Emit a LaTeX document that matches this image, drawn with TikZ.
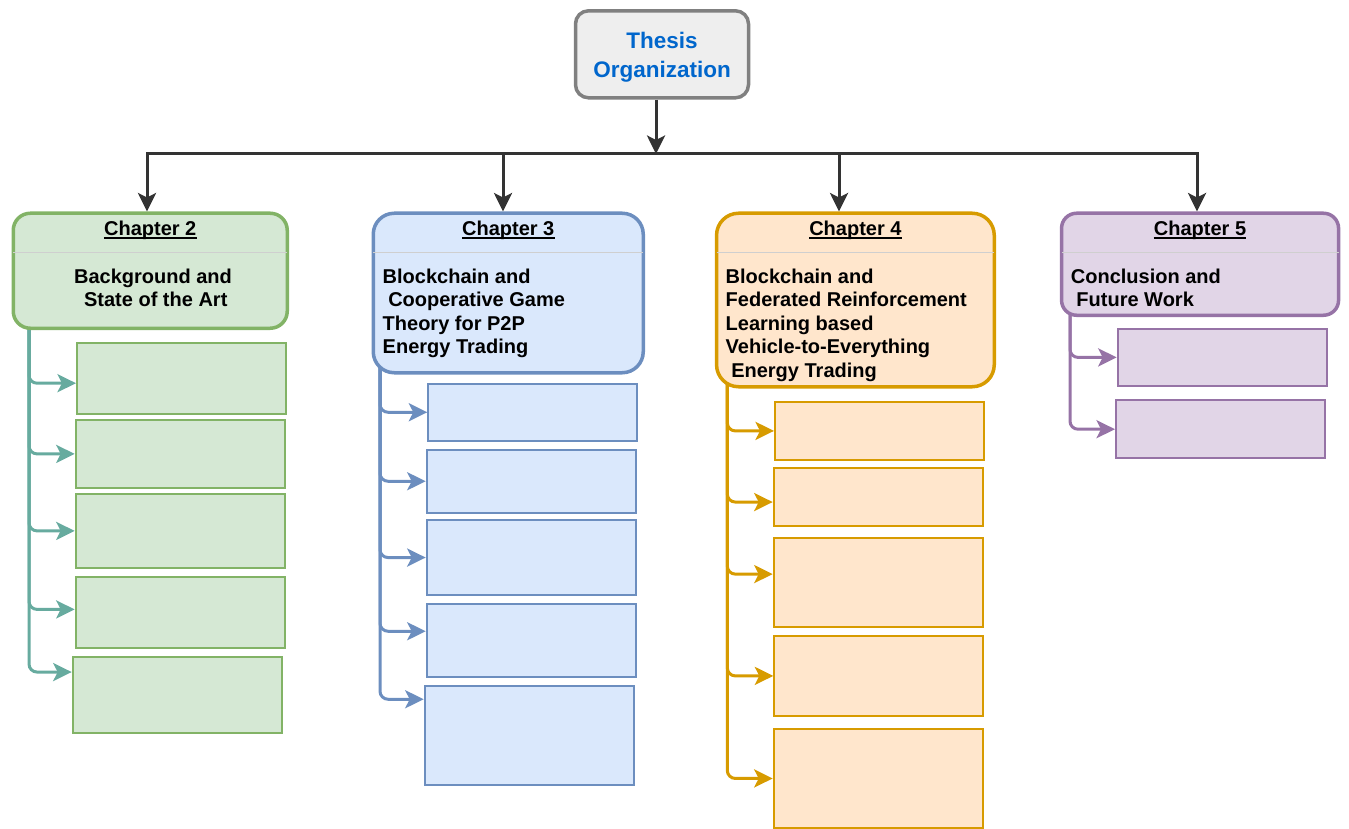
\documentclass[tikz,border=0pt]{standalone}
\usepackage{fontspec}
\setmainfont{Liberation Sans}
\usetikzlibrary{arrows.meta,calc}

\definecolor{gfill}{HTML}{D5E8D4}
\definecolor{gline}{HTML}{82B366}
\definecolor{gwire}{HTML}{67AB9F}
\definecolor{bfill}{HTML}{DAE8FC}
\definecolor{bline}{HTML}{6C8EBF}
\definecolor{ofill}{HTML}{FFE6CC}
\definecolor{oline}{HTML}{D79B00}
\definecolor{pfill}{HTML}{E1D5E7}
\definecolor{pline}{HTML}{9673A6}
\definecolor{tfill}{HTML}{EEEEEE}
\definecolor{tline}{HTML}{808080}
\definecolor{tblue}{HTML}{0066CC}
\definecolor{wire}{HTML}{333333}
\definecolor{sepline}{HTML}{CFCFCF}

\newcommand\chapfont{\fontsize{20}{23.6}\selectfont\bfseries}
\newcommand\titlefont{\fontsize{22.5}{29.6}\selectfont\bfseries}
\newcommand\lead{\hspace*{5.56pt}}

\pgfdeclarelayer{bg}
\pgfsetlayers{bg,main}

\tikzset{
  tip/.style={-{Stealth[length=18.5pt,width=18pt,inset=4.5pt]}},
  topbox/.style={draw=tline, fill=tfill, line width=3.5pt, rounded corners=13pt,
    minimum width=173pt, minimum height=87pt, inner sep=0pt},
  title/.style={inner sep=0pt, align=center, text=tblue, font=\titlefont},
  chap/.style={line width=3.5pt, rounded corners=#1, inner sep=0pt, anchor=north west},
  chap/.default=18pt,
  sub/.style={line width=1.8pt, inner sep=0pt, anchor=north west,
    minimum width=209pt},
  head/.style={inner sep=0pt, anchor=base, font=\chapfont},
  uline/.style={line width=1.7pt, black},
  body/.style={inner sep=0pt, font=\chapfont},
  sep/.style={draw=sepline, line width=1.3pt},
  trunk/.style={draw=wire, line width=3pt, line join=miter, tip},
  branch/.style={line width=3pt, rounded corners=8pt, tip},
}

\begin{document}
\begin{tikzpicture}[x=1pt,y=-1pt]
\useasboundingbox (0,0) rectangle (1349,829);

% ---- root ----
\node[topbox] (top) at (662,54.3) {};
\node[title] (ttl) at (662,57.3) {Thesis\\Organization};

% ---- chapter boxes ----
\node[chap=17pt, draw=gline, fill=gfill, minimum width=274pt, minimum height=115pt] (ch2) at (11.5,211.5) {};
\node[chap=21pt, draw=bline, fill=bfill, minimum width=270pt, minimum height=159.5pt] (ch3) at (371.5,211.5) {};
\node[chap=22pt, draw=oline, fill=ofill, minimum width=277.7pt, minimum height=173.5pt] (ch4) at (714.8,211.5) {};
\node[chap=15pt, draw=pline, fill=pfill, minimum width=277pt, minimum height=102pt] (ch5) at (1059.8,211.5) {};

% separators under the headings
\foreach \c in {ch2,ch3,ch4,ch5}
  \draw[sep] ([xshift=1.7pt]\c.west |- 0,252.3) -- ([xshift=-1.7pt]\c.east |- 0,252.3);

% headings
\node[head] (h2) at (ch2.north |- 0,235.5) {Chapter 2};
\node[head] (h3) at (ch3.north |- 0,235.5) {Chapter 3};
\node[head] (h4) at (ch4.north |- 0,235.5) {Chapter 4};
\node[head] (h5) at (ch5.north |- 0,235.5) {Chapter 5};
\foreach \h in {h2,h3,h4,h5}
  \draw[uline] ([yshift=-2.4pt]\h.base west) -- ([yshift=-2.4pt]\h.base east);

% chapter titles
\node[body, anchor=north, align=center] (t2) at (153,268.4)
  {Background and\\\lead State of the Art};
\node[body, anchor=north west, align=left] (t3) at (382.5,268.4)
  {Blockchain and\\\lead Cooperative Game\\Theory for P2P\\Energy Trading};
\node[body, anchor=north west, align=left] (t4) at (725.5,268.4)
  {Blockchain and\\Federated Reinforcement\\Learning based\\Vehicle-to-Everything\\\lead Energy Trading};
\node[body, anchor=north west, align=left] (t5) at (1070.7,268.4)
  {Conclusion and\\\lead Future Work};

% ---- section boxes ----
\node[sub, draw=gline, fill=gfill, minimum height=70.4pt] (g1) at (76,342.3) {};
\node[sub, draw=gline, fill=gfill, minimum height=68.6pt] (g2) at (74.7,418.7) {};
\node[sub, draw=gline, fill=gfill, minimum height=73.4pt] (g3) at (74.7,493.3) {};
\node[sub, draw=gline, fill=gfill, minimum height=71.6pt] (g4) at (74.7,575.7) {};
\node[sub, draw=gline, fill=gfill, minimum height=76.3pt] (g5) at (71.7,656) {};

\node[sub, draw=bline, fill=bfill, minimum height=57.3pt] (b1) at (427.3,382.7) {};
\node[sub, draw=bline, fill=bfill, minimum height=63.3pt] (b2) at (425.7,448.7) {};
\node[sub, draw=bline, fill=bfill, minimum height=74.7pt] (b3) at (425.7,519.3) {};
\node[sub, draw=bline, fill=bfill, minimum height=73.3pt] (b4) at (425.7,602.7) {};
\node[sub, draw=bline, fill=bfill, minimum height=99.3pt] (b5) at (423.7,684.7) {};

\node[sub, draw=oline, fill=ofill, minimum height=58pt] (o1) at (774,401) {};
\node[sub, draw=oline, fill=ofill, minimum height=57.7pt] (o2) at (772.7,467.3) {};
\node[sub, draw=oline, fill=ofill, minimum height=89pt] (o3) at (772.7,536.7) {};
\node[sub, draw=oline, fill=ofill, minimum height=80pt] (o4) at (773.3,635) {};
\node[sub, draw=oline, fill=ofill, minimum height=98.5pt] (o5) at (772.7,728.3) {};

\node[sub, draw=pline, fill=pfill, minimum height=57.6pt] (p1) at (1116.7,327.7) {};
\node[sub, draw=pline, fill=pfill, minimum height=58pt] (p2) at (1115,399.3) {};

% ---- root to chapters ----
\coordinate (bus) at (656,154);
\coordinate (k2) at (147,154);
\coordinate (k3) at (503,154);
\coordinate (k4) at (839,154);
\coordinate (k5) at (1197,154);
\draw[trunk] (bus |- top.south) -- (bus);
\draw[trunk] (bus) -| (k2 |- ch2.north);
\draw[trunk] (bus) -| (k5 |- ch5.north);
\draw[trunk] (k3) -- (k3 |- ch3.north);
\draw[trunk] (k4) -- (k4 |- ch4.north);

% ---- chapters to sections ----
\begin{pgfonlayer}{bg}
\coordinate (s2) at (29,318);
\coordinate (s3) at (380,362);
\coordinate (s4) at (727.3,376);
\coordinate (s5) at (1070,305);
\foreach \n/\dy in {g1/-4.8,g2/0,g3/0,g4/3,g5/23}
  \draw[branch, draw=gwire] (s2) |- ([yshift=\dy pt]\n.west);
\foreach \n/\dy in {b1/0,b2/0,b3/0,b4/9,b5/36}
  \draw[branch, draw=bline] (s3) |- ([yshift=\dy pt]\n.west);
\foreach \n/\dy in {o1/0,o2/-5,o3/8,o4/0,o5/0}
  \draw[branch, draw=oline] (s4) |- ([yshift=\dy pt]\n.west);
\foreach \n/\dy in {p1/0,p2/0}
  \draw[branch, draw=pline] (s5) |- ([yshift=\dy pt]\n.west);
\end{pgfonlayer}
\end{tikzpicture}
\end{document}
